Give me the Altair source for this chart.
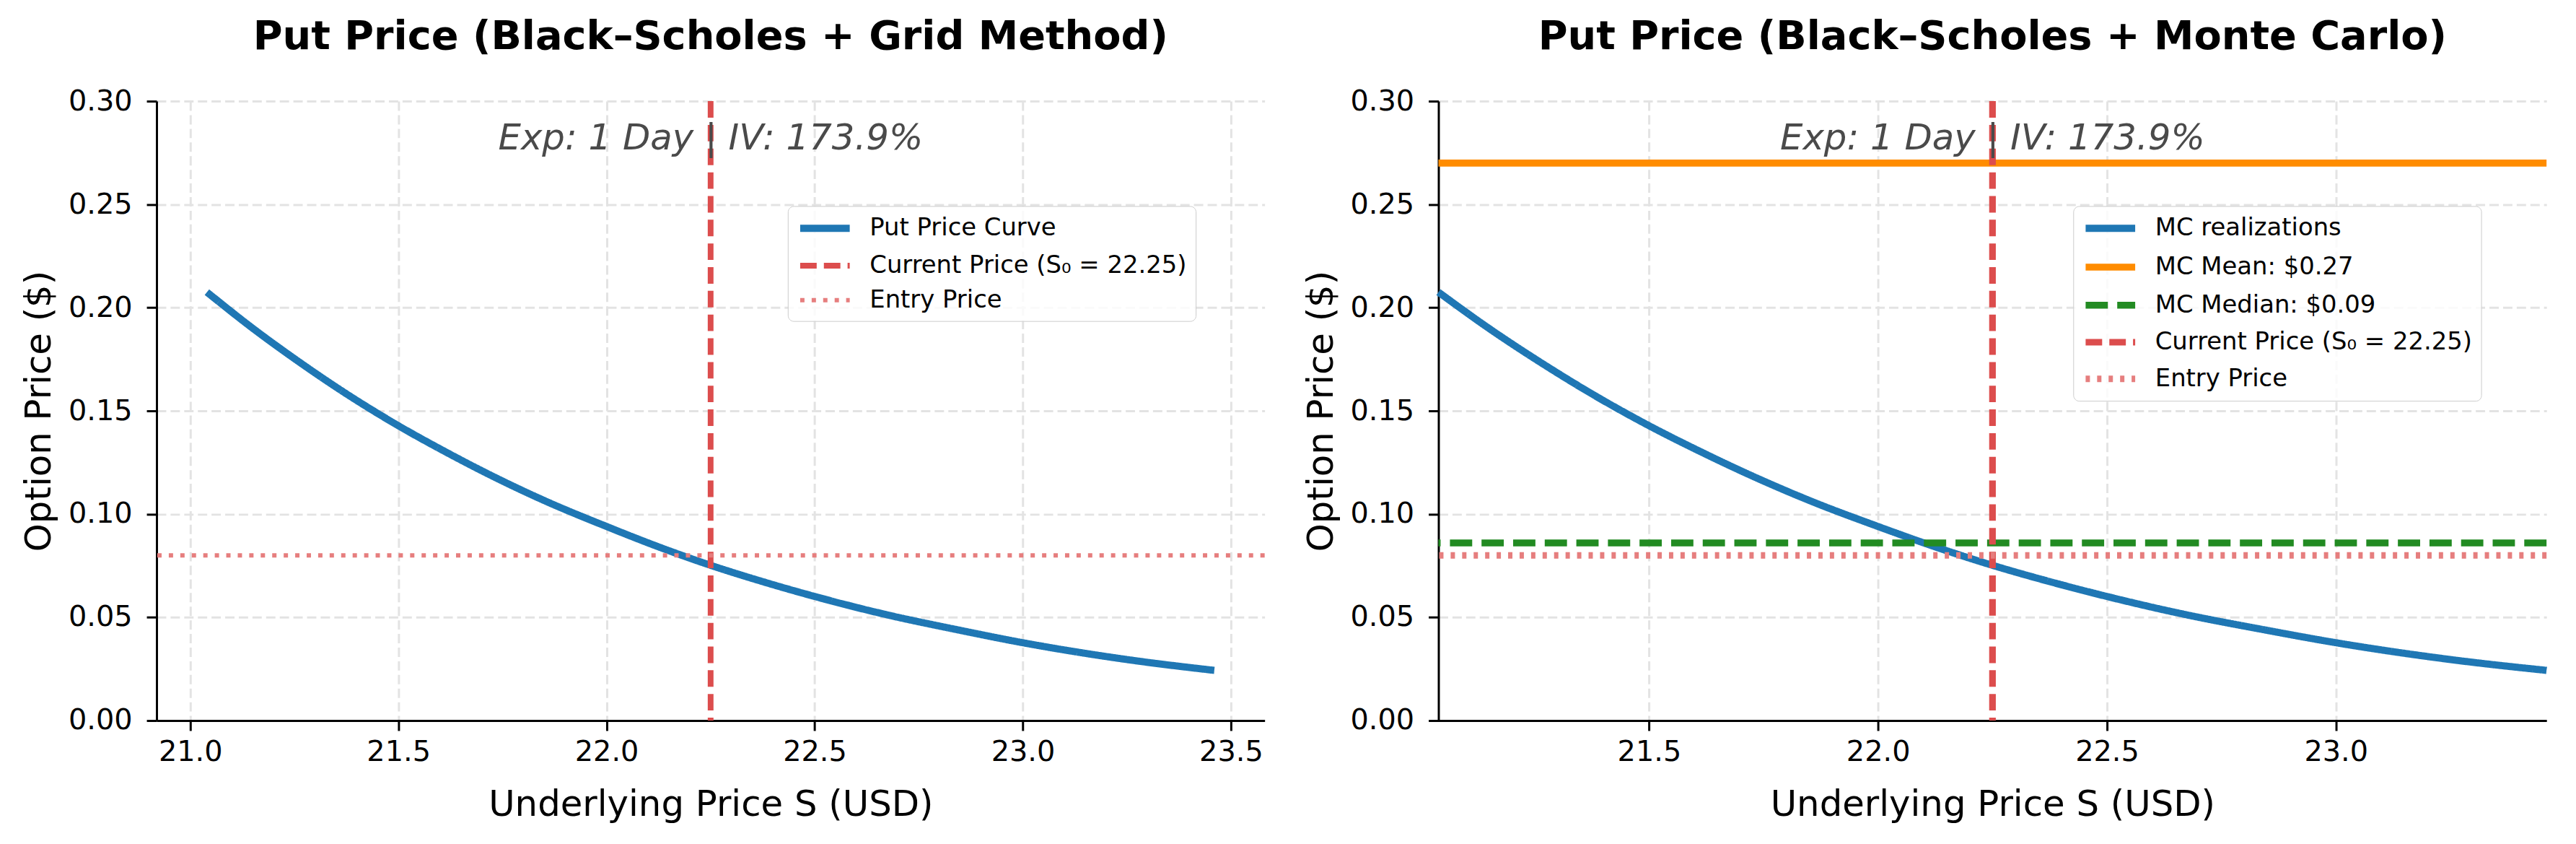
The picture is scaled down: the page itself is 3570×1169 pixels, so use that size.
import altair as alt
import pandas as pd

# ---- data ----
S_VALUES = [21.04, 21.15, 21.265, 21.38, 21.5, 21.61, 21.745, 21.85, 22.0, 22.14,
            22.25, 22.37, 22.5, 22.67, 22.84, 23.0, 23.13, 23.27, 23.46]
PUT_VALUES = [0.2075, 0.190, 0.1732, 0.1576, 0.1428, 0.1305, 0.1165, 0.1066, 0.0940, 0.0830,
              0.0752, 0.0676, 0.0601, 0.0514, 0.0441, 0.0377, 0.0332, 0.0290, 0.0243]
S0 = 22.25
ENTRY_PRICE = 0.08
MC_MEAN = 0.27
MC_MEDIAN = 0.086
ANNOT = "Exp: 1 Day | IV: 173.9%"

LEFT_X_TICKS = [21.0, 21.5, 22.0, 22.5, 23.0, 23.5]
RIGHT_X_TICKS = [21.5, 22.0, 22.5, 23.0]
Y_TICKS = [0.0, 0.05, 0.10, 0.15, 0.20, 0.25, 0.30]

LBL_CURVE_L = "Put Price Curve"
LBL_CURVE_R = "MC realizations"
LBL_MEAN = "MC Mean: $0.27"
LBL_MEDIAN = "MC Median: $0.09"
LBL_CUR = "Current Price (S\u2080 = 22.25)"
LBL_ENTRY = "Entry Price"

W, H = 1543, 862
FONT = "DejaVu Sans"

BLUE = "#1f77b4"
ORANGE = "#ff8c00"
GREEN = "#228b22"
RED = "#dc4d4d"
PINK = "#e67e7e"


def legend(x):
    return alt.Legend(
        orient="none", legendX=x, legendY=146, title=None,
        symbolType="M-1,0H4", symbolSize=762,
        labelFont=FONT, labelFontSize=34, labelColor="black",
        labelLimit=1000, labelOffset=64, rowPadding=14, padding=12,
        strokeColor="#cccccc", fillColor="rgba(255,255,255,0.8)", cornerRadius=8,
    )


def panel(curve_label, extra, title, x_domain, x_ticks, legend_x):
    domain = [curve_label] + [e[0] for e in extra] + [LBL_CUR, LBL_ENTRY]
    colors = [BLUE] + [e[1] for e in extra] + [RED, PINK]
    dashes = [[1, 0]] + [e[2] for e in extra] + [[23, 10], [6, 10]]
    widths = [10] + [e[3] for e in extra] + [6, 5.5]
    lg = legend(legend_x)
    color = alt.Color("series:N", scale=alt.Scale(domain=domain, range=colors), legend=lg)
    dash = alt.StrokeDash("series:N", scale=alt.Scale(domain=domain, range=dashes), legend=lg)
    sw = alt.StrokeWidth("series:N", scale=alt.Scale(domain=domain, range=widths), legend=lg)

    xscale = alt.Scale(domain=x_domain, nice=False, zero=False)
    yscale = alt.Scale(domain=[0, 0.30], nice=False)
    xaxis = alt.Axis(values=x_ticks, format=".1f", title="Underlying Price S (USD)")
    yaxis = alt.Axis(values=Y_TICKS, format=".2f", title="Option Price ($)")

    curve_df = pd.DataFrame({"S": S_VALUES, "P": PUT_VALUES, "series": curve_label})
    curve = alt.Chart(curve_df).mark_line(interpolate="monotone", strokeCap="butt").encode(
        x=alt.X("S:Q", scale=xscale, axis=xaxis),
        y=alt.Y("P:Q", scale=yscale, axis=yaxis),
        color=color, strokeDash=dash, strokeWidth=sw,
    )
    layers = [curve]
    for lab, _, _, _, val in extra:
        hdf = pd.DataFrame({"y": [val], "series": [lab]})
        layers.append(alt.Chart(hdf).mark_rule().encode(
            y="y:Q", color=color, strokeDash=dash, strokeWidth=sw))
    vdf = pd.DataFrame({"x": [S0], "series": [LBL_CUR]})
    layers.append(alt.Chart(vdf).mark_rule().encode(
        x="x:Q", color=color, strokeDash=dash, strokeWidth=sw))
    edf = pd.DataFrame({"y": [ENTRY_PRICE], "series": [LBL_ENTRY]})
    layers.append(alt.Chart(edf).mark_rule().encode(
        y="y:Q", color=color, strokeDash=dash, strokeWidth=sw))
    tdf = pd.DataFrame({"t": [ANNOT]})
    layers.append(alt.Chart(tdf).mark_text(
        font=FONT, fontSize=50, fontStyle="italic", color="#4a4a4a",
        align="center", baseline="middle").encode(
        text="t:N", x=alt.value(W / 2), y=alt.value(52)))
    return alt.layer(*layers).properties(
        width=W, height=H,
        title=alt.TitleParams(title, font=FONT, fontSize=56, fontWeight="bold",
                              color="black", anchor="middle", offset=40),
    )


left = panel(LBL_CURVE_L, [], "Put Price (Black\u2013Scholes + Grid Method)",
             [20.919, 23.581], LEFT_X_TICKS, 879)
right = panel(LBL_CURVE_R,
              [(LBL_MEAN, ORANGE, [1, 0], 9, MC_MEAN),
               (LBL_MEDIAN, GREEN, [31, 13], 8, MC_MEDIAN)],
              "Put Price (Black\u2013Scholes + Monte Carlo)",
              [21.04, 23.46], RIGHT_X_TICKS, 884)

chart = alt.hconcat(left, right, spacing=50).resolve_scale(
    x="independent", color="independent", strokeDash="independent",
    strokeWidth="independent").resolve_legend(
    color="independent", strokeDash="independent", strokeWidth="independent"
).properties(
    padding={"left": 21, "top": 13, "right": 13, "bottom": 15},
    background="white",
).configure_view(stroke=None).configure_axis(
    labelFont=FONT, labelFontSize=40, labelColor="black",
    titleFont=FONT, titleFontSize=50, titleFontWeight="normal", titleColor="black",
    domainColor="black", domainWidth=3, tickColor="black", tickWidth=3, tickSize=14,
    gridColor="#e3e3e3", gridWidth=3, gridDash=[13, 6],
).configure_axisY(labelPadding=20, titlePadding=15).configure_axisX(
    labelPadding=10, titlePadding=28)

chart.save("out.html", embed_options={"renderer": "svg", "actions": False})
